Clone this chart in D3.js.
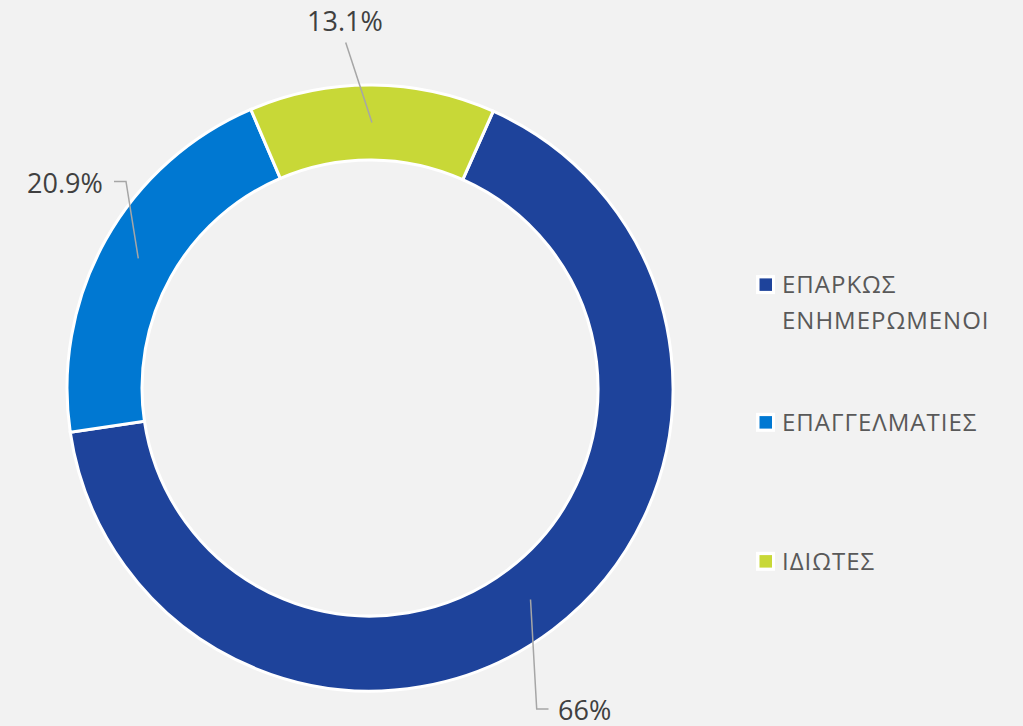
<!DOCTYPE html>
<html>
<head>
<meta charset="utf-8">
<script src="https://cdn.jsdelivr.net/npm/d3@7"></script>
<style>
  html, body { margin: 0; padding: 0; background: #F2F2F2; }
  svg { display: block; }
</style>
</head>
<body>
<svg id="chart" width="1023" height="726"></svg>
<script>
// ---- data ----
const categories = ["ΕΠΑΡΚΩΣ ΕΝΗΜΕΡΩΜΕΝΟΙ", "ΕΠΑΓΓΕΛΜΑΤΙΕΣ", "ΙΔΙΩΤΕΣ"];
const legendLines = [["ΕΠΑΡΚΩΣ", "ΕΝΗΜΕΡΩΜΕΝΟΙ"], ["ΕΠΑΓΓΕΛΜΑΤΙΕΣ"], ["ΙΔΙΩΤΕΣ"]];
const values = [66, 20.9, 13.1];
const valueLabels = ["66%", "20.9%", "13.1%"];
const colors = ["#1E439B", "#0078D2", "#C8D837"];

// ---- layout ----
const W = 1023, H = 726;
const cx = 370, cy = 388;
const outerR = 303, innerR = 228;
const startDeg = 24;

const svg = d3.select("#chart");
svg.append("rect").attr("width", W).attr("height", H).attr("fill", "#F2F2F2");

const pie = d3.pie().sort(null).value(d => d)
  .startAngle(startDeg * Math.PI / 180)
  .endAngle((startDeg + 360) * Math.PI / 180);
const arcs = pie(values);
const arc = d3.arc().innerRadius(innerR).outerRadius(outerR);

const g = svg.append("g").attr("transform", `translate(${cx},${cy})`);
g.selectAll("path.slice").data(arcs).enter().append("path")
  .attr("class", "slice")
  .attr("d", arc)
  .attr("fill", (d, i) => colors[i])
  .attr("stroke", "#FFFFFF")
  .attr("stroke-width", 3)
  .attr("stroke-linejoin", "miter");

// ---- data labels with leader lines ----
const labelPos = [
  { x: 558, y: 719.5, pts: [[536.7, 709], [548.5, 709]] },
  { x: 27, y: 193, pts: [[126, 181.5], [114, 181.5]] },
  { x: 307, y: 31, pts: [[345.7, 42.5]] }
];
const font = "'Open Sans', 'Noto Sans', sans-serif";

arcs.forEach((d, i) => {
  const c = arc.centroid(d);
  const start = [cx + c[0], cy + c[1]];
  const pts = [start].concat(labelPos[i].pts);
  svg.append("path")
    .attr("d", d3.line()(pts))
    .attr("fill", "none")
    .attr("stroke", "#A6A6A6")
    .attr("stroke-width", 1.5);
  svg.append("text")
    .attr("x", labelPos[i].x)
    .attr("y", labelPos[i].y)
    .attr("font-family", font)
    .attr("font-size", 27)
    .attr("fill", "#404040")
    .text(valueLabels[i]);
});

// ---- legend ----
const legendBaselines = [293.3, 431, 570];
const legendX = 782;
const lg = svg.append("g");
categories.forEach((cat, i) => {
  const by = legendBaselines[i];
  const midY = by - 8.7;
  lg.append("rect")
    .attr("x", 756).attr("y", midY - 9.5)
    .attr("width", 19).attr("height", 19)
    .attr("fill", "#FFFFFF");
  lg.append("rect")
    .attr("x", 759.5).attr("y", midY - 6.2)
    .attr("width", 12.5).attr("height", 12.5)
    .attr("fill", colors[i]);
  const t = lg.append("text")
    .attr("x", legendX).attr("y", by)
    .attr("font-family", font)
    .attr("font-size", 24)
    .attr("letter-spacing", 1)
    .attr("fill", "#595959");
  legendLines[i].forEach((ln, j) => {
    t.append("tspan").attr("x", legendX).attr("y", by + j * 36).text(ln);
  });
});
</script>
</body>
</html>
